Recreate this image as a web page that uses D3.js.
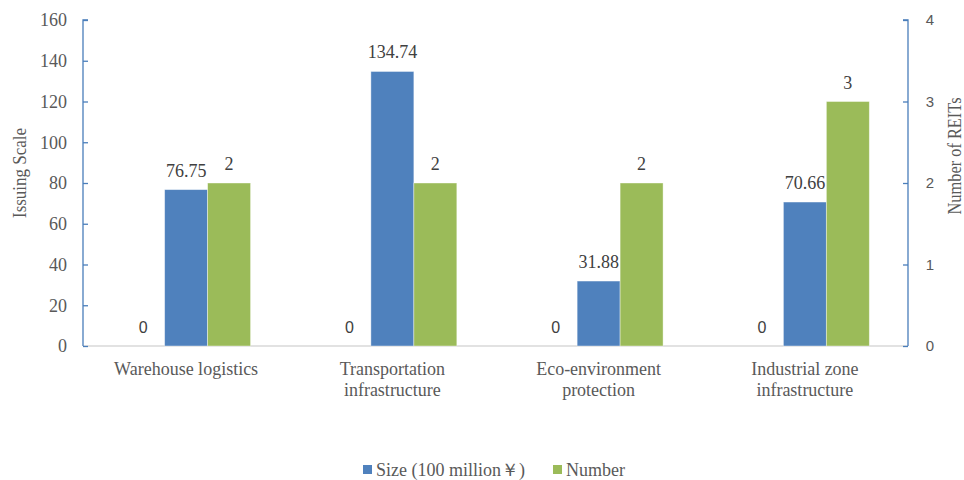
<!DOCTYPE html>
<html>
<head>
<meta charset="utf-8">
<script src="https://cdn.jsdelivr.net/npm/d3@7"></script>
<style>
  body { margin: 0; background: #fff; }
  svg { display: block; }
</style>
</head>
<body>
<div id="chart"></div>
<script>
// chart data
const categories = [
    ["Warehouse logistics"],
    ["Transportation", "infrastructure"],
    ["Eco-environment", "protection"],
    ["Industrial zone", "infrastructure"]
];
const catKeys = categories.map(c => c.join(" "));
const zeroValues = [0, 0, 0, 0];
const sizeValues = [76.75, 134.74, 31.88, 70.66];
const numberValues = [2, 2, 2, 3];
const leftTicks = [0, 20, 40, 60, 80, 100, 120, 140, 160];
const rightTicks = [0, 1, 2, 3, 4];
const seriesNames = ["Size (100 million\uFFE5)", "Number"];

const W = 964, H = 480;
const plotLeft = 83, plotRight = 908, plotTop = 20, plotBottom = 346;
const serif = "'Liberation Serif', 'Times New Roman', serif";
const sans = "'Liberation Sans', Arial, sans-serif";
const axisColor = "#4a7ebb";
const blue = "#4f81bd", green = "#9bbb59";

const svg = d3.select("#chart").append("svg")
    .attr("width", W)
    .attr("height", H);

const x0 = d3.scaleBand()
    .domain(catKeys)
    .range([plotLeft, plotRight])
    .paddingInner(0.375)
    .paddingOuter(0.1875);

const x1 = d3.scaleBand()
    .domain(["zero", "size", "number"])
    .range([0, x0.bandwidth()]);

const yL = d3.scaleLinear().domain([0, 160]).range([plotBottom, plotTop]);
const yR = d3.scaleLinear().domain([0, 4]).range([plotBottom, plotTop]);

// x axis baseline
svg.append("line")
    .attr("x1", plotLeft).attr("x2", plotRight)
    .attr("y1", plotBottom).attr("y2", plotBottom)
    .attr("stroke", "#d9d9d9")
    .attr("stroke-width", 1.3);

// left axis
const gL = svg.append("g")
    .attr("transform", `translate(${plotLeft},0)`)
    .call(d3.axisRight(yL).tickValues(leftTicks).tickSize(5).tickFormat(""));
gL.select(".domain").attr("stroke", axisColor).attr("stroke-width", 1.3).attr("d", `M5,${plotTop}H0V${plotBottom}`);
gL.selectAll(".tick line").attr("stroke", axisColor).attr("stroke-width", 1.3);

svg.append("g").selectAll("text")
    .data(leftTicks)
    .join("text")
    .attr("x", 67)
    .attr("y", d => yL(d))
    .attr("dy", "0.35em")
    .attr("text-anchor", "end")
    .attr("font-family", serif)
    .attr("font-size", 18)
    .attr("fill", "#595959")
    .text(d => d);

// right axis
const gR = svg.append("g")
    .attr("transform", `translate(${plotRight},0)`)
    .call(d3.axisLeft(yR).tickValues(rightTicks).tickSize(5).tickFormat(""));
gR.select(".domain").attr("stroke", axisColor).attr("stroke-width", 1.3).attr("d", `M-5,${plotTop}H0V${plotBottom}`);
gR.selectAll(".tick line").attr("stroke", axisColor).attr("stroke-width", 1.3);

svg.append("g").selectAll("text")
    .data(rightTicks)
    .join("text")
    .attr("x", 930)
    .attr("y", d => yR(d))
    .attr("dy", "0.35em")
    .attr("text-anchor", "middle")
    .attr("font-family", sans)
    .attr("font-size", 15)
    .attr("fill", "#595959")
    .text(d => d);

// axis titles
svg.append("text")
    .attr("transform", `translate(26,173) rotate(-90)`)
    .attr("text-anchor", "middle")
    .attr("font-family", serif)
    .attr("font-size", 18)
    .attr("textLength", 90)
    .attr("lengthAdjust", "spacingAndGlyphs")
    .attr("fill", "#595959")
    .text("Issuing Scale");

svg.append("text")
    .attr("transform", `translate(961,156) rotate(-90)`)
    .attr("text-anchor", "middle")
    .attr("font-family", serif)
    .attr("font-size", 19)
    .attr("textLength", 117)
    .attr("lengthAdjust", "spacingAndGlyphs")
    .attr("fill", "#595959")
    .text("Number of REITs");

// bars
const groups = svg.append("g").selectAll("g")
    .data(catKeys)
    .join("g")
    .attr("transform", d => `translate(${x0(d)},0)`);

groups.append("rect")
    .attr("x", x1("size"))
    .attr("width", x1.bandwidth())
    .attr("y", (d, i) => yL(sizeValues[i]))
    .attr("height", (d, i) => yL(0) - yL(sizeValues[i]))
    .attr("fill", blue)
    .attr("stroke", "#fff")
    .attr("stroke-opacity", 0.5)
    .attr("stroke-width", 0.8);

groups.append("rect")
    .attr("x", x1("number"))
    .attr("width", x1.bandwidth())
    .attr("y", (d, i) => yR(numberValues[i]))
    .attr("height", (d, i) => yR(0) - yR(numberValues[i]))
    .attr("fill", green)
    .attr("stroke", "#fff")
    .attr("stroke-opacity", 0.5)
    .attr("stroke-width", 0.8);

// value labels
groups.append("text")
    .attr("x", x1("zero") + x1.bandwidth() / 2)
    .attr("y", (d, i) => yR(zeroValues[i]) - 13)
    .attr("text-anchor", "middle")
    .attr("font-family", sans)
    .attr("font-size", 16)
    .attr("fill", "#404040")
    .text((d, i) => zeroValues[i]);

groups.append("text")
    .attr("x", x1("size") + x1.bandwidth() / 2)
    .attr("y", (d, i) => yL(sizeValues[i]) - 13)
    .attr("text-anchor", "middle")
    .attr("font-family", serif)
    .attr("font-size", 18)
    .attr("fill", "#404040")
    .text((d, i) => sizeValues[i]);

groups.append("text")
    .attr("x", x1("number") + x1.bandwidth() / 2)
    .attr("y", (d, i) => yR(numberValues[i]) - 13)
    .attr("text-anchor", "middle")
    .attr("font-family", serif)
    .attr("font-size", 18)
    .attr("fill", "#404040")
    .text((d, i) => numberValues[i]);

// category labels
const catLabels = svg.append("g").selectAll("text")
    .data(categories)
    .join("text")
    .attr("x", (d, i) => x0(catKeys[i]) + x0.bandwidth() / 2)
    .attr("y", 375)
    .attr("text-anchor", "middle")
    .attr("font-family", serif)
    .attr("font-size", 18)
    .attr("fill", "#595959");

catLabels.selectAll("tspan")
    .data(d => d)
    .join("tspan")
    .attr("x", function() { return d3.select(this.parentNode).attr("x"); })
    .attr("dy", (d, i) => i === 0 ? 0 : 21)
    .text(d => d);

// legend
const legendX = [363, 553];
const legend = svg.append("g").selectAll("g")
    .data(seriesNames)
    .join("g")
    .attr("transform", (d, i) => `translate(${legendX[i]},465)`);

legend.append("rect")
    .attr("width", 9)
    .attr("height", 9)
    .attr("fill", (d, i) => i === 0 ? blue : green);

legend.append("text")
    .attr("x", 13)
    .attr("y", 11)
    .attr("font-family", serif)
    .attr("font-size", 18)
    .attr("fill", "#595959")
    .text(d => d);
</script>
</body>
</html>
